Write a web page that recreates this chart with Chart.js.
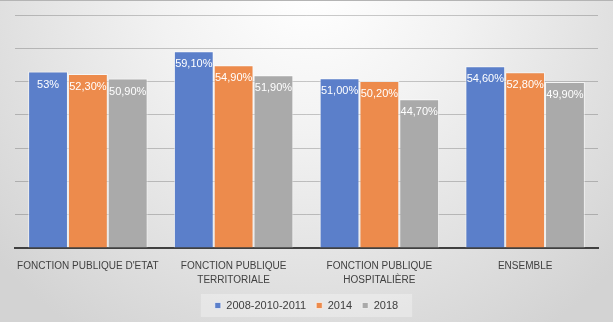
<!DOCTYPE html>
<html>
<head>
<meta charset="utf-8">
<script src="https://cdn.jsdelivr.net/npm/chart.js@4"></script>
<style>
  html, body { margin: 0; padding: 0; background: #fff; }
  #wrap { width: 613px; height: 322px; }
</style>
</head>
<body>
<div id="wrap"><canvas id="chart" width="613" height="322"></canvas></div>
<script>
// categories and series
const categories = [
  ["FONCTION PUBLIQUE D'ETAT"],
  ["FONCTION PUBLIQUE", "TERRITORIALE"],
  ["FONCTION PUBLIQUE", "HOSPITALIÈRE"],
  ["ENSEMBLE"],
];
const seriesNames = ["2008-2010-2011", "2014", "2018"];
const values2011 = [53.0, 59.1, 51.0, 54.6];
const values2014 = [52.3, 54.9, 50.2, 52.8];
const values2018 = [50.9, 51.9, 44.7, 49.9];
// value labels as printed on the bars
const labels2011 = ["53%", "59,10%", "51,00%", "54,60%"];
const labels2014 = ["52,30%", "54,90%", "50,20%", "52,80%"];
const labels2018 = ["50,90%", "51,90%", "44,70%", "49,90%"];

const colors = ["#5b7fca", "#ed8b4c", "#aaaaaa"];
const FONT = "'Liberation Sans', Arial, sans-serif";

// radial background + legend panel
const bgPlugin = {
  id: "bg",
  beforeDraw(chart) {
    const { ctx, width, height } = chart;
    ctx.save();
    const g = ctx.createRadialGradient(310, -20, 10, 310, -20, 420);
    g.addColorStop(0, "#ffffff");
    g.addColorStop(0.35, "#f2f2f2");
    g.addColorStop(1, "#d3d3d3");
    ctx.fillStyle = g;
    ctx.fillRect(0, 0, width, height);
    ctx.fillStyle = "#b4b4b4";
    ctx.fillRect(0, 0, width, 1);

    const boxes = chart.legend && chart.legend.legendHitBoxes;
    if (boxes && boxes.length) {
      let l = Infinity, r = -Infinity, t = Infinity, b = -Infinity;
      boxes.forEach((h) => {
        l = Math.min(l, h.left);
        r = Math.max(r, h.left + h.width);
        t = Math.min(t, h.top);
        b = Math.max(b, h.top + h.height);
      });
      ctx.fillStyle = "rgba(255,255,255,0.3)";
      ctx.fillRect(l - 14, t - 6, r - l + 28, b - t + 12);
    }
    ctx.restore();
  },
};

// white value labels just under the top of each bar
const valueLabels = [labels2011, labels2014, labels2018];
const labelPlugin = {
  id: "valueLabels",
  afterDatasetsDraw(chart) {
    const { ctx } = chart;
    ctx.save();
    ctx.font = "11px " + FONT;
    ctx.fillStyle = "#ffffff";
    ctx.textAlign = "center";
    ctx.textBaseline = "middle";
    chart.data.datasets.forEach((ds, i) => {
      chart.getDatasetMeta(i).data.forEach((bar, j) => {
        ctx.fillText(valueLabels[i][j], bar.x, bar.y + 13);
      });
    });
    ctx.restore();
  },
};

const ctx = document.getElementById("chart").getContext("2d");
new Chart(ctx, {
  type: "bar",
  data: {
    labels: categories,
    datasets: [values2011, values2014, values2018].map((vals, i) => ({
      label: seriesNames[i],
      data: vals,
      backgroundColor: colors[i],
      borderColor: "rgba(255,255,255,0.6)",
      borderWidth: 1,
      categoryPercentage: 0.82,
      barPercentage: 1,
    })),
  },
  options: {
    responsive: false,
    animation: false,
    layout: { padding: { left: 15, right: 15, top: 15, bottom: 1 } },
    plugins: {
      tooltip: { enabled: false },
      legend: {
        position: "bottom",
        labels: {
          boxWidth: 6,
          boxHeight: 6,
          padding: 10,
          color: "#404040",
          font: { family: FONT, size: 11 },
        },
      },
    },
    scales: {
      x: {
        grid: { display: false },
        border: { display: true, color: "#404040", width: 2 },
        ticks: {
          color: "#404040",
          font: { family: FONT, size: 10, lineHeight: 1.4 },
          padding: 3,
          maxRotation: 0,
          autoSkip: false,
        },
        afterFit(scale) {
          scale.height = 42;
        },
      },
      y: {
        min: 0,
        max: 70,
        ticks: { display: false, stepSize: 10 },
        border: { display: false },
        grid: { color: "rgba(0,0,0,0.2)", drawTicks: false },
      },
    },
  },
  plugins: [bgPlugin, labelPlugin],
});
</script>
</body>
</html>
